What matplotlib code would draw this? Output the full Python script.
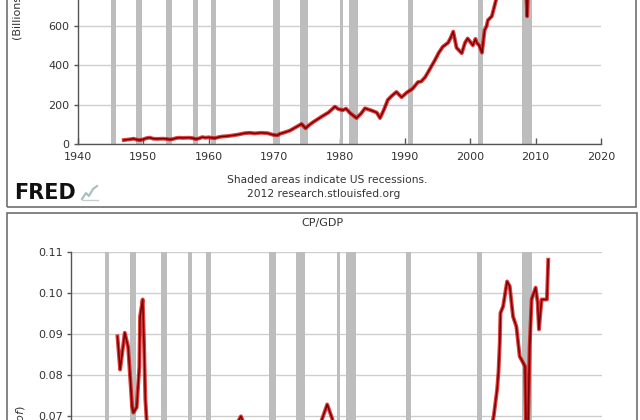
import matplotlib
matplotlib.use("Agg")
import matplotlib.pyplot as plt
from matplotlib.patches import Rectangle
from matplotlib.lines import Line2D

W, H = 640, 420

# ---------------- data ----------------
recessions = [(1945.1, 1945.8), (1948.9, 1949.8), (1953.5, 1954.4), (1957.6, 1958.3),
              (1960.3, 1961.1), (1969.9, 1970.9), (1973.9, 1975.2), (1980.0, 1980.5),
              (1981.5, 1982.9), (1990.5, 1991.2), (2001.2, 2001.9), (2007.9, 2009.5)]

cp_years = [1947.0, 1947.5, 1948.0, 1948.5, 1949.0, 1949.5, 1950.0, 1950.5, 1951.0, 1951.5,
            1952.0, 1953.0, 1953.5, 1954.0, 1954.5, 1955.0, 1955.5, 1956.0, 1957.0, 1957.5,
            1958.0, 1958.5, 1959.0, 1959.5, 1960.0, 1960.5, 1961.0, 1961.5, 1962.0, 1962.8,
            1963.5, 1964.5, 1965.5, 1966.3, 1967.0, 1968.0, 1969.0, 1969.8, 1970.5, 1970.9,
            1971.5, 1972.4, 1973.3, 1974.2, 1974.8, 1975.5, 1976.0, 1977.3, 1978.3, 1979.3,
            1979.8, 1980.5, 1981.0, 1981.6, 1982.6, 1983.3, 1983.9, 1984.5, 1985.1, 1985.7,
            1986.2, 1986.8, 1987.4, 1988.0, 1988.7, 1989.5, 1990.3, 1991.2, 1992.0, 1992.5,
            1993.1, 1993.8, 1994.6, 1995.2, 1995.8, 1996.6, 1997.0, 1997.4, 1997.9, 1998.7,
            1999.2, 1999.6, 2000.0, 2000.4, 2000.8, 2001.0, 2001.4, 2001.8, 2002.2, 2002.5,
            2002.7, 2003.3, 2004.0, 2004.5, 2005.0, 2005.5, 2006.0, 2006.5, 2007.0, 2007.5,
            2008.0, 2008.3, 2008.7, 2009.0, 2009.5, 2010.0, 2010.5, 2011.0, 2011.5, 2011.9]
cp_values = [20, 22, 24, 27, 22, 20, 24, 30, 32, 27,
             26, 27, 26, 23, 25, 30, 32, 31, 32, 30,
             25, 28, 35, 32, 34, 31, 30, 35, 38, 40,
             43, 48, 55, 57, 54, 57, 55, 47, 44, 52,
             58, 68, 85, 102, 80, 100, 112, 140, 160, 190,
             178, 172, 180, 158, 132, 155, 182, 175, 168, 160,
             132, 175, 225, 245, 265, 238, 262, 282, 315, 318,
             340, 380, 427, 465, 495, 515, 540, 572, 490, 462,
             515, 537, 520, 502, 535, 515, 500, 465, 580, 600,
             630, 650, 740, 850, 1000, 1150, 1250, 1320, 1260, 1200,
             1150, 1000, 650, 950, 1200, 1350, 1450, 1400, 1550, 1650]

ratio_years = [1947.0, 1947.4, 1947.7, 1948.1, 1948.6, 1949.2, 1949.4, 1949.9, 1950.3, 1950.4,
               1950.8, 1951.0, 1951.2, 1951.5, 1952.0, 1953.0, 1954.0, 1955.0, 1956.0, 1957.0,
               1958.0, 1959.0, 1960.0, 1961.0, 1962.0, 1963.0, 1964.0, 1965.0, 1965.6, 1966.3,
               1967.0, 1968.0, 1969.0, 1970.0, 1971.0, 1972.0, 1973.0, 1974.0, 1975.0, 1976.0,
               1977.0, 1977.8, 1978.6, 1979.4, 1980.0, 1981.0, 1982.0, 1983.0, 1984.0, 1985.0,
               1986.0, 1987.0, 1988.0, 1989.0, 1990.0, 1991.0, 1992.0, 1993.0, 1994.0, 1995.0,
               1996.0, 1997.0, 1998.0, 1999.0, 2000.0, 2001.0, 2002.0, 2003.0, 2003.7, 2004.2,
               2004.4, 2004.6, 2004.7, 2005.1, 2005.7, 2006.1, 2006.6, 2007.1, 2007.6, 2008.4,
               2008.7, 2009.1, 2009.4, 2010.0, 2010.3, 2010.5, 2010.9, 2011.7, 2011.9]
ratio_values = [0.0893, 0.0812, 0.0850, 0.0902, 0.0868, 0.0722, 0.0707, 0.0720, 0.0820, 0.0941,
                0.0983, 0.0878, 0.0740, 0.0660, 0.0620, 0.0600, 0.0580, 0.0640, 0.0600, 0.0580,
                0.0540, 0.0600, 0.0560, 0.0550, 0.0600, 0.0620, 0.0650, 0.0680, 0.0698, 0.0670,
                0.0620, 0.0600, 0.0550, 0.0460, 0.0500, 0.0540, 0.0580, 0.0640, 0.0580, 0.0640,
                0.0660, 0.0690, 0.0727, 0.0690, 0.0640, 0.0580, 0.0500, 0.0550, 0.0580, 0.0520,
                0.0460, 0.0500, 0.0550, 0.0500, 0.0500, 0.0520, 0.0540, 0.0560, 0.0600, 0.0650,
                0.0660, 0.0680, 0.0600, 0.0580, 0.0540, 0.0500, 0.0580, 0.0640, 0.0700, 0.0764,
                0.0805, 0.0878, 0.0950, 0.0966, 0.1027, 0.1015, 0.0941, 0.0917, 0.0844, 0.0820,
                0.0550, 0.0868, 0.0983, 0.1012, 0.0976, 0.0910, 0.0983, 0.0983, 0.1080]

x_ticks = [1940, 1950, 1960, 1970, 1980, 1990, 2000, 2010, 2020]
top_yticks = [0, 200, 400, 600]
bot_yticks = [0.07, 0.08, 0.09, 0.10, 0.11]

# ---------------- style ----------------
TXT = "#333333"
AXC = "#555555"
GRID = "#cfcfcf"
BAR = "#bdbdbd"
LINE_OUT = "#d60000"
LINE_IN = "#7a0000"


def fx(px):
    return px / W


def fy(py):
    return 1 - py / H


fig = plt.figure(figsize=(W / 100, H / 100), dpi=100)
fig.patch.set_facecolor("white")


def style_axes(ax, yticks, ylim, fmt):
    ax.set_xlim(1940, 2020)
    ax.set_ylim(*ylim)
    for s in ("top", "right"):
        ax.spines[s].set_visible(False)
    for s in ("left", "bottom"):
        ax.spines[s].set_color(AXC)
        ax.spines[s].set_linewidth(1.0)
    ax.set_yticks(yticks)
    ax.set_yticklabels([fmt(v) for v in yticks])
    ax.set_xticks(x_ticks)
    ax.set_xticklabels([str(v) for v in x_ticks])
    ax.tick_params(axis="x", direction="in", length=4, width=1, color=AXC,
                   labelsize=8, labelcolor=TXT, pad=6)
    ax.tick_params(axis="y", direction="out", length=3, width=1, color=AXC,
                   labelsize=8, labelcolor=TXT, pad=3)
    ax.yaxis.grid(True, color=GRID, lw=1)
    ax.xaxis.grid(False)
    ax.set_axisbelow(True)
    for a, b in recessions:
        ax.axvspan(a, b, color=BAR, lw=0, zorder=1)


# ---------------- top panel ----------------
t_left, t_right, t_bottom = 78, 601, 144
t_height_px = 1800 * 0.1965
ax1 = fig.add_axes([fx(t_left), fy(t_bottom), (t_right - t_left) / W, t_height_px / H])
style_axes(ax1, top_yticks, (0, 1800), lambda v: f"{v:d}")
ax1.plot(cp_years, cp_values, color=LINE_OUT, lw=2.8, alpha=0.75, zorder=3,
         solid_joinstyle="round")
ax1.plot(cp_years, cp_values, color=LINE_IN, lw=1.1, zorder=4, solid_joinstyle="round")

fig.text(fx(18), fy(40), "(Billions of $)", rotation=90, ha="center", va="bottom",
         fontsize=8, color=TXT)
fig.text(fx(327), fy(180), "Shaded areas indicate US recessions.", ha="center",
         va="center", fontsize=7.7, color=TXT)
fig.text(fx(324), fy(194), "2012 research.stlouisfed.org", ha="center", va="center",
         fontsize=7.7, color=TXT)
fig.text(fx(14), fy(193), "FRED", ha="left", va="center", fontsize=15,
         fontweight="bold", color="#111111")
# small logo glyph
fig.add_artist(Line2D([fx(82), fx(86), fx(89), fx(93), fx(97)],
                      [fy(199), fy(193), fy(196), fy(189), fy(186)],
                      transform=fig.transFigure, color="#a9bcc0", lw=1.5))
fig.add_artist(Line2D([fx(82), fx(98)], [fy(200), fy(200)],
                      transform=fig.transFigure, color="#c5d0d2", lw=1.0))

fig.add_artist(Rectangle((fx(7), fy(207)), fx(636) - fx(7), 0.6,
                         transform=fig.transFigure, fill=False, ec="#707070", lw=1.2,
                         clip_on=False))

# ---------------- bottom panel ----------------
b_left, b_right, b_top = 71, 602, 251.5
px_per_unit = 41 / 0.01
b_height_px = (0.11 - 0.04) * px_per_unit
ax2 = fig.add_axes([fx(b_left), fy(b_top + b_height_px), (b_right - b_left) / W,
                    b_height_px / H])
style_axes(ax2, bot_yticks, (0.04, 0.11), lambda v: f"{v:.2f}")
ax2.tick_params(axis="x", labelbottom=False)
ax2.plot(ratio_years, ratio_values, color=LINE_OUT, lw=2.8, alpha=0.75, zorder=3,
         solid_joinstyle="round")
ax2.plot(ratio_years, ratio_values, color=LINE_IN, lw=1.1, zorder=4,
         solid_joinstyle="round")

fig.text(fx(322), fy(223), "CP/GDP", ha="center", va="center", fontsize=8, color=TXT)
fig.text(fx(21), fy(405), "(Bil. of $)/(Bil. of $)", rotation=90, ha="center",
         va="top", fontsize=8, color=TXT)

fig.add_artist(Rectangle((fx(7), fy(213) - 0.6), fx(637) - fx(7), 0.6,
                         transform=fig.transFigure, fill=False, ec="#707070", lw=1.2,
                         clip_on=False))

fig.savefig("out.png", dpi=100, facecolor="white")
